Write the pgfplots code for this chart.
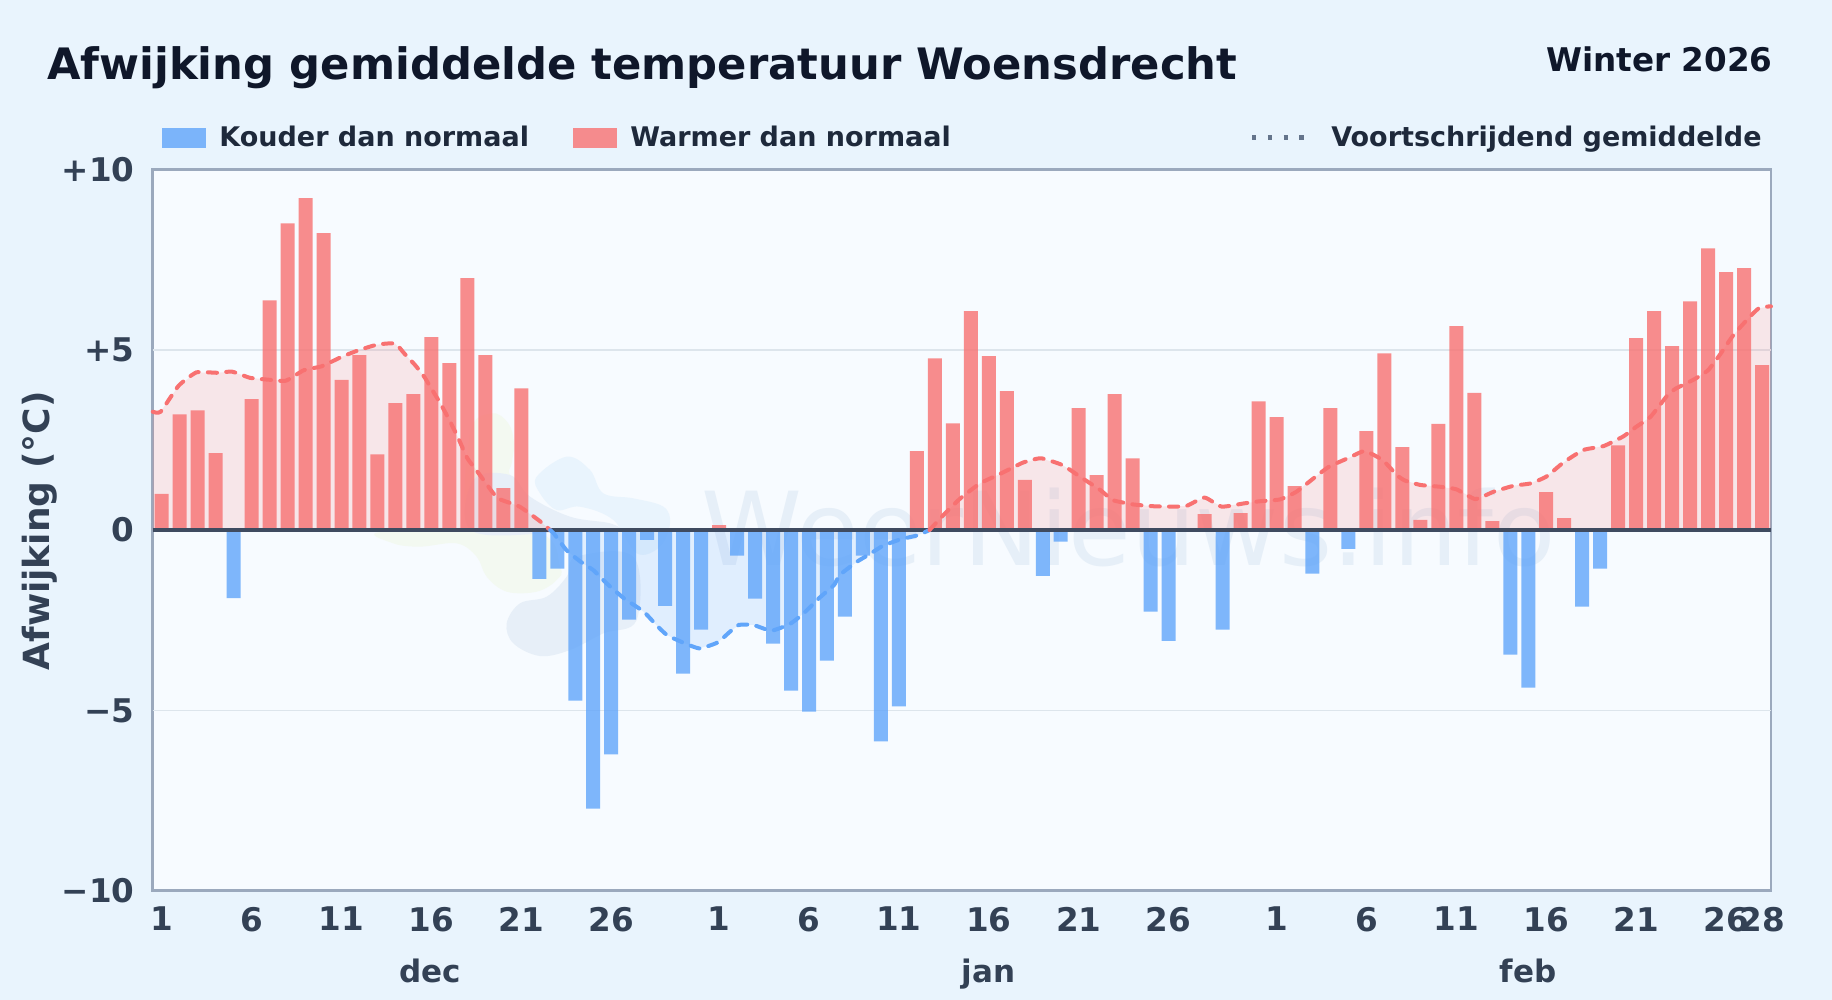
\documentclass[border=0pt]{standalone}
\usepackage{pgfplots}
\pgfplotsset{compat=1.18}
\usepackage{pgfplotstable}
\usepackage{fontspec}
\setmainfont{DejaVu Sans}
\definecolor{pagebg}{HTML}{E9F4FD}
\definecolor{plotbg}{HTML}{F7FBFF}
\definecolor{frame}{HTML}{9BA9BD}
\definecolor{gridc}{HTML}{DDE5EC}
\definecolor{zeroc}{HTML}{3F4B60}
\definecolor{warm}{HTML}{F87171}
\definecolor{cold}{HTML}{60A5FA}
\definecolor{titlec}{HTML}{0F172A}
\definecolor{legc}{HTML}{1E293B}
\definecolor{tickc}{HTML}{334155}
\definecolor{dotc}{HTML}{64748B}
\definecolor{wmtext}{HTML}{E6EFF8}
\definecolor{wmblue}{HTML}{E9F4FD}
\definecolor{wmslate}{HTML}{E7EFF8}
\definecolor{wmgreen}{HTML}{F3F9F1}
\pgfplotstableread{
x y
1 1.00
2 3.21
3 3.32
4 2.13
6 3.63
7 6.37
8 8.50
9 9.20
10 8.23
11 4.16
12 4.85
13 2.10
14 3.52
15 3.77
16 5.35
17 4.63
18 6.98
19 4.85
20 1.16
21 3.93
32 0.14
43 2.19
44 4.76
45 2.96
46 6.07
47 4.82
48 3.85
49 1.39
52 3.38
53 1.52
54 3.77
55 1.99
59 0.44
61 0.47
62 3.57
63 3.13
64 1.22
66 3.38
68 2.74
69 4.90
70 2.30
71 0.28
72 2.94
73 5.65
74 3.80
75 0.25
78 1.05
79 0.33
82 2.35
83 5.32
84 6.07
85 5.10
86 6.34
87 7.81
88 7.15
89 7.26
90 4.57
}\warmbars
\pgfplotstableread{
x y
5 -1.89
22 -1.35
23 -1.07
24 -4.73
25 -7.72
26 -6.22
27 -2.48
28 -0.27
29 -2.10
30 -3.98
31 -2.76
33 -0.71
34 -1.90
35 -3.15
36 -4.45
37 -5.03
38 -3.62
39 -2.40
40 -0.71
41 -5.86
42 -4.89
50 -1.27
51 -0.32
56 -2.26
57 -3.07
60 -2.76
65 -1.21
67 -0.52
76 -3.45
77 -4.37
80 -2.12
81 -1.07
}\coldbars
\pgfplotstableread{
x y
0.5 3.28
0.94 3.28
1.94 4.00
2.93 4.37
4.05 4.36
4.92 4.39
5.91 4.22
6.9 4.17
7.9 4.14
8.9 4.43
9.9 4.54
11 4.80
11.87 4.97
12.98 5.14
13.98 5.17
14.5 4.89
15.1 4.57
15.6 4.25
16 3.92
16.5 3.51
17 3.05
17.5 2.54
18 1.99
18.5 1.66
19.1 1.25
19.7 0.88
20.9 0.65
22 0.26
22.6 0
}\warmlineA
\pgfplotstableread{
x y
22.6 0
22.8 -0.09
23.5 -0.55
24.3 -0.88
25 -1.11
25.75 -1.48
26.7 -1.89
27.8 -2.26
28.5 -2.63
29.1 -2.91
30 -3.12
30.9 -3.28
31.9 -3.12
32.6 -2.82
33.1 -2.63
33.9 -2.63
34.9 -2.79
35.95 -2.60
36.7 -2.31
37.6 -1.87
38.4 -1.52
38.7 -1.25
39.66 -0.88
40.4 -0.66
41.1 -0.44
42.07 -0.26
43 -0.15
43.7 0
}\coldline
\pgfplotstableread{
x y
43.7 0
44.56 0.46
45.4 0.87
46.5 1.29
47.6 1.55
48.9 1.87
49.9 1.99
51.1 1.80
52.07 1.48
53.2 1.11
53.9 0.83
55.04 0.71
56.15 0.66
57.2 0.65
58 0.67
59 0.90
59.95 0.65
61.2 0.74
62.1 0.80
63.2 0.85
64.1 1.06
65.05 1.43
65.9 1.75
67.1 2.02
67.9 2.19
68.9 1.94
69.7 1.52
70.15 1.37
71 1.25
72.1 1.20
73 1.13
74.05 0.86
75.06 1.06
76.2 1.23
77.1 1.29
78 1.48
78.95 1.87
80.07 2.22
81.2 2.33
82.3 2.60
83 2.86
83.8 3.14
84.7 3.71
85.2 3.92
86.2 4.17
87 4.43
87.7 4.89
88.4 5.40
89.15 5.82
89.8 6.14
90.4 6.20
90.5 6.20
}\warmlineB
\begin{document}
\begin{tikzpicture}[x=0.5pt,y=-0.5pt]
\useasboundingbox (0,0) rectangle (1832,1000);
\fill[pagebg] (0,0) rectangle (1832,1000);
\fill[plotbg] (152.7,169.3) rectangle (1771,890.8);
% watermark
\begin{scope}[shift={(370,400)},x=0.16667pt,y=-0.16667pt]
\fill[wmgreen] plot[smooth cycle,tension=.6] coordinates {(365,40)(415,70)(432,130)(425,190)(420,225)(480,300)(490,395)(300,395)(300,100)};
\fill[wmgreen] plot[smooth cycle,tension=.6] coordinates {(40,395)(70,430)(150,440)(260,430)(320,470)(350,530)(410,575)(500,575)(560,540)(570,500)(490,395)};
\fill[wmslate] plot[smooth cycle,tension=.6] coordinates {(310,240)(420,225)(480,290)(600,350)(720,370)(750,395)(600,395)(310,395)};
\fill[wmblue] plot[smooth cycle,tension=.6] coordinates {(500,230)(590,170)(660,210)(700,280)(790,295)(880,320)(900,370)(870,440)(800,460)(730,360)(630,320)(560,330)(510,280)};
\fill[wmslate] plot[smooth cycle,tension=.6] coordinates {(410,670)(450,610)(530,590)(590,530)(620,470)(790,470)(800,660)(700,700)(600,750)(510,768)(430,730)};
\end{scope}
\node[anchor=base west,text=wmtext,font=\fontsize{51pt}{51pt}\selectfont,inner sep=0pt] at (701,565) {WeerNieuws.info};
\begin{axis}[
  at={(152.7*0.5pt,-890.8*0.5pt)},anchor=south west,
  scale only axis,width=809.15pt,height=360.75pt,
  xmin=0.5,xmax=90.5,ymin=-10,ymax=10,
  clip=false,
  axis line style={frame,line width=1.4pt},
  tick style={draw=none},
  major tick length=0pt,
  ytick={-10,-5,0,5,10},
  yticklabels={−10,−5,0,+5,+10},
  xtick={1,6,11,16,21,26,32,37,42,47,52,57,63,68,73,78,83,88,90},
  xticklabels={1,6,11,16,21,26,1,6,11,16,21,26,1,6,11,16,21,26,28},
  grid=none,
  tick label style={font=\bfseries\fontsize{16.3pt}{16.3pt}\selectfont,text=tickc},
  yticklabel style={xshift=-5.5pt},
  xticklabel style={yshift=-4.5pt},
  legend columns=3,
  legend cell align=left,
  legend style={at={(0,1)},anchor=south west,xshift=4.75pt,yshift=8pt,draw=none,fill=none,
     font=\bfseries\fontsize{13.5pt}{13.5pt}\selectfont,text=legc,inner sep=0pt,outer sep=0pt,row sep=0pt,
     /tikz/every even column/.append style={column sep=0pt}},
]
% grid lines
\addplot[gridc,line width=0.9pt,forget plot] coordinates {(0.5,5)(90.5,5)};
\addplot[gridc,line width=0.9pt,forget plot] coordinates {(0.5,-5)(90.5,-5)};
% areas
\addplot[draw=none,fill=warm,fill opacity=.15,forget plot] table[x=x,y=y] {\warmlineA} \closedcycle;
\addplot[draw=none,fill=cold,fill opacity=.15,forget plot] table[x=x,y=y] {\coldline} \closedcycle;
\addplot[draw=none,fill=warm,fill opacity=.15,forget plot] table[x=x,y=y] {\warmlineB} \closedcycle;
% bars
\addplot[ybar,bar width=7pt,bar shift=0pt,draw=none,fill=cold,fill opacity=.8,
  legend image code/.code={\fill[cold,fill opacity=.8] (0pt,-5pt) rectangle (22pt,5pt);}]
  table[x=x,y=y] {\coldbars};
\addlegendentry{\kern4.6pt Kouder dan normaal\kern20pt}
\addplot[ybar,bar width=7pt,bar shift=0pt,draw=none,fill=warm,fill opacity=.8,
  legend image code/.code={\fill[warm,fill opacity=.8] (0pt,-5pt) rectangle (22pt,5pt);}]
  table[x=x,y=y] {\warmbars};
\addlegendentry{\kern4.6pt Warmer dan normaal\kern147.5pt}
% zero line
\addplot[zeroc,line width=1.8pt,forget plot] coordinates {(0.5,0)(90.5,0)};
% rolling mean
\addplot[warm,line width=2pt,dash pattern=on 4.6pt off 4.6pt,smooth,tension=.3,line cap=round,forget plot] table[x=x,y=y] {\warmlineA};
\addplot[cold,line width=2pt,dash pattern=on 4.6pt off 4.6pt,smooth,tension=.3,line cap=round,forget plot] table[x=x,y=y] {\coldline};
\addplot[warm,line width=2pt,dash pattern=on 4.6pt off 4.6pt,smooth,tension=.3,line cap=round,forget plot] table[x=x,y=y] {\warmlineB};
\addlegendimage{legend image code/.code={\draw[dotc,line width=2.2pt,dash pattern=on 2.2pt off 5.7pt] (0pt,0pt)--(28pt,0pt);}}
\addlegendentry{\kern8.5pt Voortschrijdend gemiddelde}
\end{axis}
\node[anchor=base,inner sep=0pt,font=\bfseries\fontsize{15.5pt}{15.5pt}\selectfont,text=tickc] at (430,982) {dec};
\node[anchor=base,inner sep=0pt,font=\bfseries\fontsize{15.5pt}{15.5pt}\selectfont,text=tickc] at (988.5,982) {jan};
\node[anchor=base,inner sep=0pt,font=\bfseries\fontsize{15.5pt}{15.5pt}\selectfont,text=tickc] at (1528,982) {feb};
\node[anchor=center,rotate=90,font=\bfseries\fontsize{18pt}{18pt}\selectfont,text=tickc] at (39.6,531) {Afwijking (°C)};
\node[anchor=base west,inner sep=0pt,font=\bfseries\fontsize{21.65pt}{21.65pt}\selectfont,text=titlec] at (46.7,80) {Afwijking gemiddelde temperatuur Woensdrecht};
\node[anchor=base east,inner sep=0pt,font=\bfseries\fontsize{16.3pt}{16.3pt}\selectfont,text=titlec] at (1773,72) {Winter 2026};
\end{tikzpicture}
\end{document}
